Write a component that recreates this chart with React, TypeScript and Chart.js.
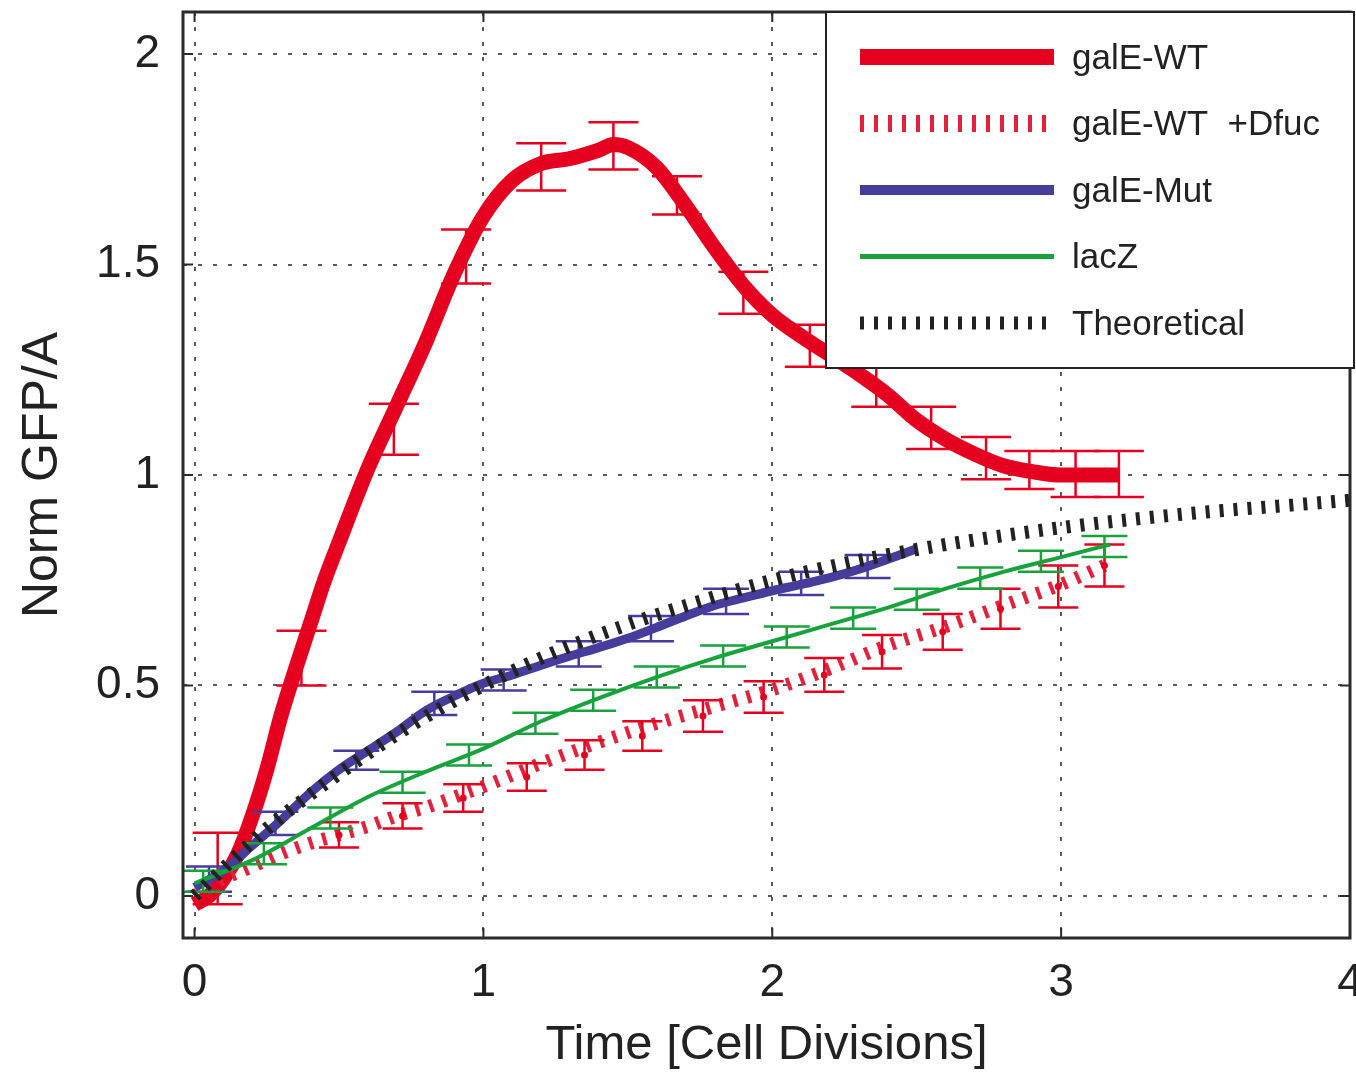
import React, { useEffect, useRef } from 'react';
import { Chart, registerables } from 'chart.js';

Chart.register(...registerables);

// ---------- data ----------
const xTickValues = [0, 1, 2, 3, 4];
const yTickValues = [0, 0.5, 1, 1.5, 2];

const seriesLabels = ['galE-WT', 'galE-WT  +Dfuc', 'galE-Mut', 'lacZ', 'Theoretical'];

// galE-WT (red, thick)
const wtX = [0, 0.05, 0.1, 0.15, 0.2, 0.25, 0.3, 0.35, 0.4, 0.45, 0.5, 0.6, 0.7, 0.8, 0.9, 1.0, 1.1, 1.2, 1.3, 1.4, 1.45, 1.5, 1.6, 1.7, 1.8, 1.9, 2.0, 2.1, 2.2, 2.3, 2.4, 2.5, 2.6, 2.7, 2.8, 2.9, 3.0, 3.1, 3.2];
const wtY = [-0.02, 0.0, 0.04, 0.1, 0.19, 0.3, 0.43, 0.54, 0.645, 0.75, 0.84, 1.015, 1.165, 1.315, 1.48, 1.615, 1.7, 1.74, 1.752, 1.772, 1.785, 1.778, 1.73, 1.64, 1.54, 1.45, 1.38, 1.33, 1.285, 1.24, 1.19, 1.13, 1.085, 1.05, 1.022, 1.008, 1.0, 1.0, 1.0];
const wtErrX = [0.08, 0.37, 0.69, 0.94, 1.2, 1.45, 1.67, 1.9, 2.13, 2.36, 2.55, 2.74, 2.89, 3.05, 3.2];
const wtErrLo = [-0.02, 0.5, 1.048, 1.455, 1.676, 1.726, 1.619, 1.383, 1.257, 1.162, 1.062, 0.99, 0.967, 0.948, 0.948];
const wtErrHi = [0.15, 0.63, 1.169, 1.583, 1.788, 1.838, 1.71, 1.483, 1.357, 1.262, 1.162, 1.09, 1.057, 1.057, 1.057];

// galE-WT +Dfuc (red, dotted)
const dfX = [0, 0.1, 0.2, 0.3, 0.4, 0.5, 0.6, 0.7, 0.8, 0.9, 1.0, 1.2, 1.4, 1.6, 1.8, 2.0, 2.2, 2.4, 2.6, 2.8, 3.0, 3.15];
const dfY = [0.0, 0.04, 0.07, 0.1, 0.125, 0.145, 0.165, 0.19, 0.21, 0.235, 0.26, 0.315, 0.365, 0.41, 0.45, 0.49, 0.54, 0.595, 0.64, 0.69, 0.74, 0.785];
const dfErrX = [0.5, 0.72, 0.93, 1.15, 1.35, 1.55, 1.76, 1.97, 2.18, 2.38, 2.59, 2.79, 2.99, 3.15];
const dfErrLo = [0.115, 0.16, 0.2, 0.25, 0.3, 0.345, 0.39, 0.435, 0.485, 0.54, 0.585, 0.635, 0.685, 0.735];
const dfErrHi = [0.175, 0.22, 0.265, 0.315, 0.37, 0.415, 0.465, 0.51, 0.565, 0.62, 0.67, 0.73, 0.785, 0.835];

// galE-Mut (blue)
const mutX = [0, 0.1, 0.2, 0.3, 0.4, 0.5, 0.6, 0.7, 0.8, 0.9, 1.0, 1.1, 1.2, 1.3, 1.4, 1.5, 1.6, 1.7, 1.8, 1.9, 2.0, 2.1, 2.2, 2.3, 2.4, 2.5];
const mutY = [0.02, 0.06, 0.12, 0.18, 0.245, 0.3, 0.345, 0.39, 0.44, 0.475, 0.505, 0.525, 0.548, 0.57, 0.59, 0.612, 0.638, 0.665, 0.69, 0.708, 0.725, 0.74, 0.756, 0.776, 0.8, 0.825];
const mutErrX = [0.05, 0.28, 0.56, 0.83, 1.07, 1.33, 1.58, 1.84, 2.1, 2.33];
const mutErrLo = [0.01, 0.145, 0.3, 0.43, 0.488, 0.545, 0.605, 0.67, 0.715, 0.755];
const mutErrHi = [0.07, 0.2, 0.345, 0.485, 0.538, 0.605, 0.665, 0.73, 0.77, 0.81];

// lacZ (green)
const lacX = [0, 0.2, 0.4, 0.6, 0.8, 1.0, 1.2, 1.4, 1.6, 1.8, 2.0, 2.2, 2.4, 2.6, 2.8, 3.0, 3.17];
const lacY = [0.03, 0.085, 0.16, 0.235, 0.295, 0.35, 0.415, 0.47, 0.52, 0.565, 0.605, 0.645, 0.685, 0.73, 0.77, 0.805, 0.835];
const lacErrX = [0.03, 0.24, 0.47, 0.72, 0.95, 1.18, 1.38, 1.6, 1.83, 2.05, 2.28, 2.5, 2.72, 2.93, 3.15];
const lacErrLo = [0.01, 0.075, 0.16, 0.245, 0.31, 0.385, 0.44, 0.495, 0.545, 0.59, 0.635, 0.68, 0.73, 0.77, 0.805];
const lacErrHi = [0.06, 0.125, 0.21, 0.295, 0.36, 0.435, 0.49, 0.545, 0.595, 0.64, 0.685, 0.73, 0.78, 0.82, 0.855];

// Theoretical (black, dotted)
const theoX = [0, 0.25, 0.5, 0.75, 1, 1.25, 1.5, 1.75, 2, 2.25, 2.5, 2.75, 3, 3.25, 3.5, 3.75, 4];
const theoY = [0, 0.16, 0.29, 0.405, 0.5, 0.58, 0.645, 0.7, 0.75, 0.79, 0.823, 0.851, 0.875, 0.895, 0.912, 0.926, 0.94];

// ---------- styling ----------
const RED = '#e5001f';
const RED2 = '#e4213c';
const BLUE = '#463c9c';
const GREEN = '#18a23c';
const BLACK = '#222222';
const TICK_FONT = "'Liberation Sans Narrow', 'Liberation Sans', Arial, sans-serif";
const TEXT_FONT = "'Liberation Sans', Arial, sans-serif";

const pts = (xs: number[], ys: number[]) => xs.map((x, i) => ({ x, y: ys[i] }));

const errorBarPlugin = {
  id: 'errorBars',
  afterDatasetDraw(chart: any, args: any) {
    const ds = chart.data.datasets[args.index];
    const eb = ds.errorBars;
    if (!eb) return;
    const { ctx, chartArea, scales } = chart;
    const xs = scales.x;
    const ys = scales.y;
    ctx.save();
    ctx.beginPath();
    ctx.rect(chartArea.left, chartArea.top, chartArea.right - chartArea.left, chartArea.bottom - chartArea.top);
    ctx.clip();
    ctx.strokeStyle = eb.color;
    ctx.fillStyle = eb.color;
    ctx.lineWidth = eb.width;
    ctx.setLineDash([]);
    for (let i = 0; i < eb.x.length; i++) {
      const px = xs.getPixelForValue(eb.x[i]);
      const lo = ys.getPixelForValue(eb.lo[i]);
      const hi = ys.getPixelForValue(eb.hi[i]);
      ctx.beginPath();
      ctx.moveTo(px, lo);
      ctx.lineTo(px, hi);
      ctx.moveTo(px - eb.cap, lo);
      ctx.lineTo(px + eb.cap, lo);
      ctx.moveTo(px - eb.cap, hi);
      ctx.lineTo(px + eb.cap, hi);
      ctx.stroke();
      if (eb.dot) {
        ctx.beginPath();
        ctx.arc(px, (lo + hi) / 2, eb.dot, 0, Math.PI * 2);
        ctx.fill();
      }
    }
    ctx.restore();
  },
};

const boxPlugin = {
  id: 'axesBox',
  afterDatasetsDraw(chart: any) {
    const { ctx, chartArea, scales } = chart;
    const { left, right, top, bottom } = chartArea;
    ctx.save();
    ctx.strokeStyle = '#2b2b2b';
    ctx.lineWidth = 2;
    ctx.setLineDash([]);
    const tl = 10;
    ctx.beginPath();
    xTickValues.forEach((v) => {
      const px = scales.x.getPixelForValue(v);
      ctx.moveTo(px, bottom);
      ctx.lineTo(px, bottom - tl);
      ctx.moveTo(px, top);
      ctx.lineTo(px, top + tl);
    });
    yTickValues.forEach((v) => {
      const py = scales.y.getPixelForValue(v);
      ctx.moveTo(left, py);
      ctx.lineTo(left + tl, py);
      ctx.moveTo(right, py);
      ctx.lineTo(right - tl, py);
    });
    ctx.stroke();
    ctx.lineWidth = 3;
    ctx.strokeRect(left, top, right - left, bottom - top);
    ctx.restore();
  },
};

const legendPlugin = {
  id: 'boxLegend',
  afterDraw(chart: any) {
    const { ctx, chartArea } = chart;
    const w = 528;
    const h = 356;
    const left = chartArea.right + 4 - w;
    const top = chartArea.top;
    ctx.save();
    ctx.fillStyle = '#ffffff';
    ctx.fillRect(left, top, w, h);
    ctx.strokeStyle = '#222';
    ctx.lineWidth = 2;
    ctx.setLineDash([]);
    ctx.strokeRect(left, top, w, h);
    chart.data.datasets.forEach((ds: any, i: number) => {
      const yy = top + 45 + i * 66.5;
      ctx.beginPath();
      ctx.setLineDash(ds.borderDash || []);
      ctx.lineWidth = ds.legendWidth || ds.borderWidth;
      ctx.strokeStyle = ds.borderColor;
      ctx.lineCap = 'butt';
      ctx.moveTo(left + 34, yy);
      ctx.lineTo(left + 228, yy);
      ctx.stroke();
      ctx.setLineDash([]);
      ctx.fillStyle = '#222';
      ctx.font = `35px ${TEXT_FONT}`;
      ctx.textBaseline = 'middle';
      ctx.textAlign = 'left';
      ctx.fillText(ds.label, left + 246, yy + 2);
    });
    ctx.restore();
  },
};

export default function App() {
  const ref = useRef<HTMLCanvasElement>(null);

  useEffect(() => {
    const canvas = ref.current;
    if (!canvas) return;
    const chart = new Chart(canvas, {
      type: 'line',
      data: {
        datasets: [
          {
            label: seriesLabels[0],
            data: pts(wtX, wtY),
            borderColor: RED,
            borderWidth: 15,
            legendWidth: 16,
            order: 5,
            errorBars: { x: wtErrX, lo: wtErrLo, hi: wtErrHi, color: RED, width: 2.5, cap: 25 },
          } as any,
          {
            label: seriesLabels[1],
            data: pts(dfX, dfY),
            borderColor: RED2,
            borderWidth: 13,
            legendWidth: 17,
            borderDash: [4, 10],
            order: 4,
            errorBars: { x: dfErrX, lo: dfErrLo, hi: dfErrHi, color: RED, width: 2.5, cap: 20, dot: 3.5 },
          } as any,
          {
            label: seriesLabels[2],
            data: pts(mutX, mutY),
            borderColor: BLUE,
            borderWidth: 9,
            legendWidth: 10,
            order: 3,
            errorBars: { x: mutErrX, lo: mutErrLo, hi: mutErrHi, color: BLUE, width: 2.5, cap: 23 },
          } as any,
          {
            label: seriesLabels[3],
            data: pts(lacX, lacY),
            borderColor: GREEN,
            borderWidth: 4,
            legendWidth: 5,
            order: 2,
            errorBars: { x: lacErrX, lo: lacErrLo, hi: lacErrHi, color: GREEN, width: 2.5, cap: 23 },
          } as any,
          {
            label: seriesLabels[4],
            data: pts(theoX, theoY),
            borderColor: BLACK,
            borderWidth: 13,
            legendWidth: 13,
            borderDash: [4, 10],
            order: 1,
          } as any,
        ],
      },
      options: {
        animation: false,
        responsive: false,
        maintainAspectRatio: false,
        devicePixelRatio: 1,
        parsing: false,
        normalized: true,
        layout: { padding: { left: 0, right: 6, top: 12, bottom: 0 } },
        elements: {
          point: { radius: 0, hoverRadius: 0 },
          line: { cubicInterpolationMode: 'monotone', fill: false, borderCapStyle: 'butt', borderJoinStyle: 'round' },
        },
        plugins: {
          legend: { display: false },
          tooltip: { enabled: false },
          title: { display: false },
        },
        scales: {
          x: {
            type: 'linear',
            min: -0.04,
            max: 4,
            afterBuildTicks: (scale: any) => {
              scale.ticks = xTickValues.map((v) => ({ value: v }));
            },
            afterFit: (scale: any) => {
              scale.height = 134;
              scale.paddingLeft = 0;
              scale.paddingRight = 0;
            },
            grid: { color: '#5a5a5a', lineWidth: 2, drawTicks: false },
            border: { display: false, dash: [4, 11] },
            ticks: {
              color: '#222',
              font: { family: TICK_FONT, size: 46 },
              padding: 18,
              maxRotation: 0,
              autoSkip: false,
              callback: (v: any) => String(v),
            },
            title: {
              display: true,
              text: 'Time [Cell Divisions]',
              color: '#222',
              font: { family: TEXT_FONT, size: 49, lineHeight: 1 },
              padding: { top: 0, bottom: 2 },
            },
          },
          y: {
            type: 'linear',
            min: -0.1,
            max: 2.1,
            afterBuildTicks: (scale: any) => {
              scale.ticks = yTickValues.map((v) => ({ value: v }));
            },
            afterFit: (scale: any) => {
              scale.width = 183;
              scale.paddingTop = 0;
              scale.paddingBottom = 0;
            },
            grid: { color: '#5a5a5a', lineWidth: 2, drawTicks: false },
            border: { display: false, dash: [4, 11] },
            ticks: {
              color: '#222',
              font: { family: TICK_FONT, size: 46 },
              padding: 23,
              autoSkip: false,
              callback: (v: any) => String(v),
            },
            title: {
              display: true,
              text: 'Norm GFP/A',
              color: '#222',
              font: { family: TEXT_FONT, size: 50, lineHeight: 1 },
              padding: { top: 18, bottom: 0 },
            },
          },
        },
      } as any,
      plugins: [errorBarPlugin, boxPlugin, legendPlugin],
    });
    return () => chart.destroy();
  }, []);

  return (
    <div
      style={{
        position: 'absolute',
        left: 0,
        top: 0,
        width: 1356,
        height: 1072,
        overflow: 'hidden',
        background: '#ffffff',
      }}
    >
      <canvas ref={ref} width={1356} height={1072} style={{ display: 'block', width: 1356, height: 1072 }} />
    </div>
  );
}
